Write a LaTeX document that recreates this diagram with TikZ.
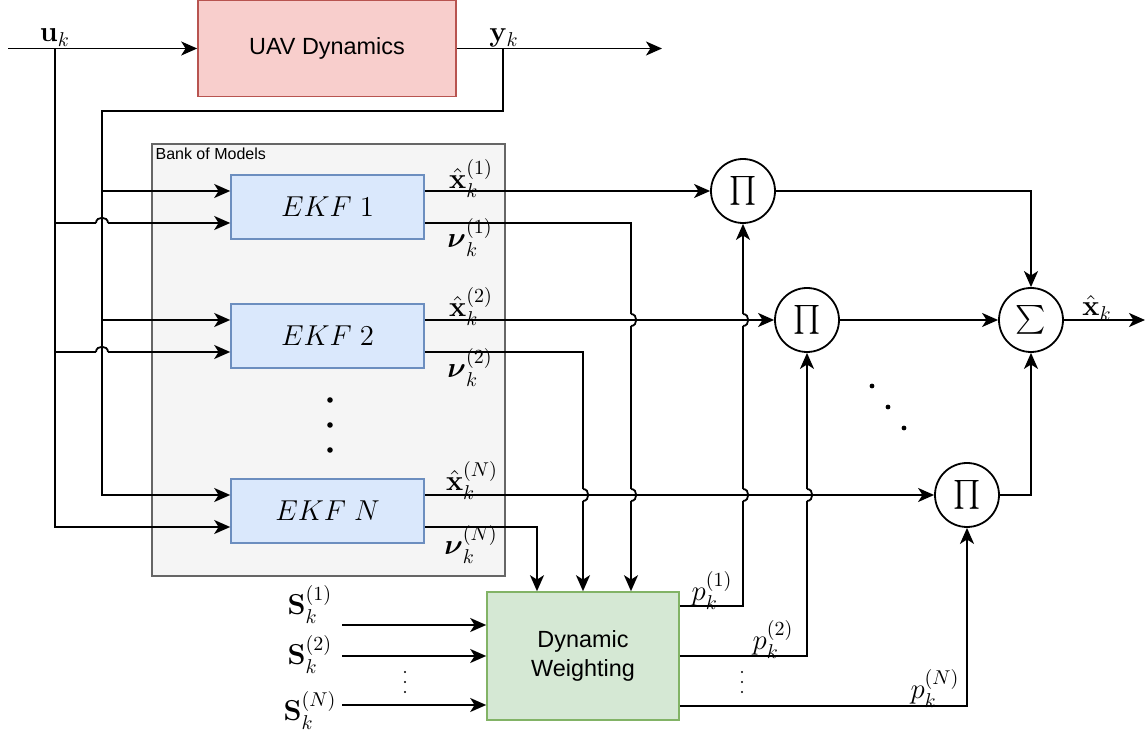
\documentclass[tikz,border=0pt]{standalone}
\usepackage{amsmath}
\usepackage[no-math]{fontspec}
\usetikzlibrary{arrows.meta,calc}
\newfontfamily\arialf{Liberation Sans}

\definecolor{uavfill}{HTML}{F8CECC}
\definecolor{uavline}{HTML}{B85450}
\definecolor{bankfill}{HTML}{F5F5F5}
\definecolor{bankline}{HTML}{666666}
\definecolor{ekffill}{HTML}{DAE8FC}
\definecolor{ekfline}{HTML}{6C8EBF}
\definecolor{dwfill}{HTML}{D5E8D4}
\definecolor{dwline}{HTML}{82B366}

\tikzset{
  wire/.style={line width=0.9pt},
  >={Stealth[length=8pt,width=7pt,inset=2.2pt]},
  uavbox/.style={draw=uavline,fill=uavfill,line width=0.8pt,minimum width=129pt,minimum height=48pt,font=\arialf\fontsize{11.7}{14}\selectfont},
  bankbox/.style={draw=bankline,fill=bankfill,line width=0.8pt,minimum width=176.5pt,minimum height=216pt},
  ekfbox/.style={draw=ekfline,fill=ekffill,line width=0.8pt,minimum width=96.5pt,minimum height=32pt,font=\fontsize{15}{18}\selectfont},
  dwbox/.style={draw=dwline,fill=dwfill,line width=0.8pt,minimum width=96pt,minimum height=64pt,align=center,font=\arialf\fontsize{11.7}{14.5}\selectfont},
  mult/.style={circle,draw,line width=0.9pt,minimum size=32pt,inner sep=0pt,font=\fontsize{14.5}{16}\selectfont},
  lbl/.style={anchor=base,inner sep=0pt,font=\fontsize{14}{16}\selectfont}
}

% salto di una linea orizzontale sopra una verticale
\newcommand\hopup[1]{%
  \fill[white] ($(#1)+(-6,-1.9)$) rectangle ($(#1)+(6,1.9)$);
  \draw[wire] ($(#1)+(0,-8)$) -- ($(#1)+(0,8)$);
  \draw[wire] ($(#1)+(-6,0)$) .. controls ($(#1)+(-6,-7)$) and ($(#1)+(6,-7)$) .. ($(#1)+(6,0)$);}
% salto di una linea verticale sopra una orizzontale
\newcommand\hopright[1]{%
  \fill[white] ($(#1)+(-1.9,-6)$) rectangle ($(#1)+(1.9,6)$);
  \draw[wire] ($(#1)+(-8,0)$) -- ($(#1)+(8,0)$);
  \draw[wire] ($(#1)+(0,-6)$) .. controls ($(#1)+(7,-6)$) and ($(#1)+(7,6)$) .. ($(#1)+(0,6)$);}

\begin{document}
\begin{tikzpicture}[x=0.5pt,y=-0.5pt]
  \useasboundingbox (0,0) rectangle (1147,742);

  %blocchi
  \node[uavbox] (uav) at (327,48.5) {UAV Dynamics};
  \node[bankbox] (bank) at (328.5,360) {};
  \node[anchor=north west,inner sep=2pt,font=\arialf\fontsize{8}{9}\selectfont] (banklbl) at (bank.north west) {Bank of Models};
  \node[ekfbox] (ekf1) at (327.5,207) {$EKF\;1$};
  \node[ekfbox] (ekf2) at (327.5,336) {$EKF\;2$};
  \node[ekfbox] (ekfN) at (327.5,511) {$EKF\;N$};
  \node[dwbox] (dw) at (583,656) {Dynamic\\Weighting};
  \node[mult] (pr1) at (743,191) {$\prod$};
  \node[mult] (pr2) at (807,320) {$\prod$};
  \node[mult] (prN) at (967,495) {$\prod$};
  \node[mult] (sum) at (1031,320) {$\sum$};

  %porte
  \foreach \i in {1,2,N}{
    \coordinate (ya\i) at ($(ekf\i.west)+(0,-16)$);
    \coordinate (ua\i) at ($(ekf\i.west)+(0,16)$);
    \coordinate (xo\i) at ($(ekf\i.east)+(0,-16)$);
    \coordinate (no\i) at ($(ekf\i.east)+(0,16)$);
  }
  \coordinate (dwn1) at ($(dw.north)+(48,0)$);
  \coordinate (dwn2) at (dw.north);
  \coordinate (dwnN) at ($(dw.north)+(-46,0)$);
  \coordinate (si1) at ($(dw.west)+(0,-31)$);
  \coordinate (si2) at (dw.west);
  \coordinate (siN) at ($(dw.west)+(0,49)$);
  \coordinate (po1) at ($(dw.east)+(0,-50)$);
  \coordinate (po2) at (dw.east);
  \coordinate (poN) at ($(dw.east)+(0,50)$);
  \coordinate (uin) at (8,48.5);
  \coordinate (utap) at (55,48.5);
  \coordinate (ytap) at (503,48.5);
  \coordinate (yout) at (662,48.5);
  \coordinate (xout) at (1145,320);

  %ingresso e uscita UAV
  \draw[wire,->] (uin) -- (uav.west);
  \draw[wire,->] (uav.east) -- (yout);
  \node[lbl] (ulbl) at (55,42) {$\mathbf{u}_k$};
  \node[lbl] (ylbl) at (504,42) {$\mathbf{y}_k$};

  %retroazione y
  \draw[wire,->] (ytap) |- (102,111) |- (yaN);
  \draw[wire,->] (ya1 -| 102,0) -- (ya1);
  \draw[wire,->] (ya2 -| 102,0) -- (ya2);

  %ingresso u
  \draw[wire,->] (utap) |- (uaN);
  \draw[wire,->] (ua1 -| 55,0) -- (ua1);
  \draw[wire,->] (ua2 -| 55,0) -- (ua2);

  %stime dei filtri
  \draw[wire,->] (xo1) -- (pr1.west);
  \draw[wire,->] (xo2) -- (pr2.west);
  \draw[wire,->] (xoN) -- (prN.west);
  \node[lbl] at (471,189) {$\hat{\mathbf{x}}_k^{(1)}$};
  \node[lbl] at (471,317) {$\hat{\mathbf{x}}_k^{(2)}$};
  \node[lbl] at (472,491) {$\hat{\mathbf{x}}_k^{(N)}$};

  %innovazioni
  \draw[wire,->] (no1) -| (dwn1);
  \draw[wire,->] (no2) -| (dwn2);
  \draw[wire,->] (noN) -| (dwnN);
  \node[lbl] at (470,248) {$\boldsymbol{\nu}_k^{(1)}$};
  \node[lbl] at (470,378) {$\boldsymbol{\nu}_k^{(2)}$};
  \node[lbl] at (471,555) {$\boldsymbol{\nu}_k^{(N)}$};

  %covarianze S
  \draw[wire,->] (si1 -| 342,0) -- (si1);
  \draw[wire,->] (si2 -| 342,0) -- (si2);
  \draw[wire,->] (siN -| 342,0) -- (siN);
  \node[lbl] at (310,615) {$\mathbf{S}_k^{(1)}$};
  \node[lbl] at (310,665) {$\mathbf{S}_k^{(2)}$};
  \node[lbl] at (310,721) {$\mathbf{S}_k^{(N)}$};

  %pesi p
  \draw[wire,->] (po1) -| (pr1.south);
  \draw[wire,->] (po2) -| (pr2.south);
  \draw[wire,->] (poN) -| (prN.south);
  \node[lbl] at (712,601) {$p_k^{(1)}$};
  \node[lbl] at (773,650) {$p_k^{(2)}$};
  \node[lbl] at (935,699) {$p_k^{(N)}$};

  %somma
  \draw[wire,->] (pr1.east) -| (sum.north);
  \draw[wire,->] (pr2.east) -- (sum.west);
  \draw[wire,->] (prN.east) -| (sum.south);
  \draw[wire,->] (sum.east) -- (xout);
  \node[lbl] at (1097,316) {$\hat{\mathbf{x}}_k$};

  %puntini
  \fill (330,400) circle (1.4pt);
  \fill (330,425) circle (1.4pt);
  \fill (330,450) circle (1.4pt);
  \fill (872,386) circle (1.2pt);
  \fill (888,407) circle (1.2pt);
  \fill (904,428) circle (1.2pt);
  \foreach \y in {672,682,692}{
    \fill (405,\y) circle (0.6pt);
    \fill (742,\y) circle (0.6pt);
  }

  %salti
  \hopup{102,223}
  \hopup{102,352}
  \hopright{631,320}
  \hopright{743,320}
  \hopright{583,495}
  \hopright{631,495}
  \hopright{743,495}
  \hopright{807,495}
\end{tikzpicture}
\end{document}
